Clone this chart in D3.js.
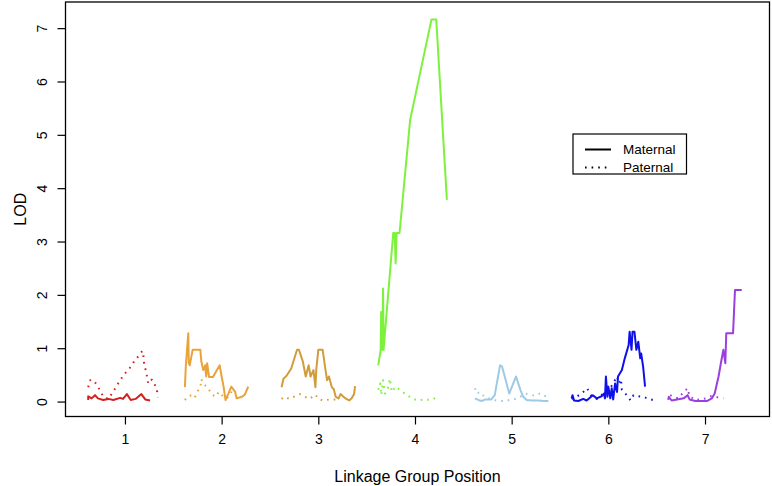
<!DOCTYPE html>
<html><head><meta charset="utf-8">
<script src="https://cdn.jsdelivr.net/npm/d3@7"></script>
<style>body{margin:0;background:#fff} svg text{font-family:"Liberation Sans",Arial,Helvetica,sans-serif;fill:#000}</style>
</head><body><svg id="c" width="772" height="486"></svg>
<script>
// ---- data ----
const groups = ["1","2","3","4","5","6","7"];
const xTicks = [1,2,3,4,5,6,7];
const yTicks = [0,1,2,3,4,5,6,7];
const xTitle = "Linkage Group Position";
const yTitle = "LOD";
const legendLabels = ["Maternal","Paternal"];
const groupColors = ["#D42020","#E8A33A","#D09C3C","#7CF23C","#9ECAE6","#1010E8","#9A3FE0"];

// [position, LOD]
const maternal1 = [[0.62,0.03],[0.62,0.10],[0.655,0.06],[0.69,0.12],[0.72,0.06],[0.775,0.03],[0.83,0.05],[0.88,0.03],[0.95,0.07],[0.98,0.05],[1.02,0.14],[1.06,0.03],[1.11,0.05],[1.17,0.14],[1.21,0.04],[1.26,0.02]];
const paternal1 = [[0.62,0.27],[0.64,0.40],[0.675,0.40],[0.71,0.31],[0.745,0.20],[0.775,0.09],[0.83,0.05],[0.865,0.15],[0.90,0.25],[0.94,0.37],[0.98,0.48],[1.02,0.57],[1.06,0.65],[1.10,0.77],[1.14,0.85],[1.18,0.95],[1.19,0.87],[1.20,0.68],[1.22,0.56],[1.24,0.34],[1.26,0.40],[1.28,0.41],[1.29,0.37],[1.31,0.31],[1.33,0.22],[1.34,0.08]];
const maternal2 = [[1.62,0.27],[1.63,0.68],[1.655,1.28],[1.66,0.72],[1.67,0.68],[1.70,0.97],[1.78,0.97],[1.79,0.75],[1.81,0.59],[1.83,0.68],[1.84,0.47],[1.85,0.72],[1.87,0.46],[1.91,0.46],[1.98,0.68],[2.00,0.47],[2.02,0.28],[2.04,0.03],[2.07,0.15],[2.10,0.28],[2.14,0.18],[2.155,0.06],[2.21,0.09],[2.24,0.13],[2.275,0.28]];
const paternal2 = [[1.62,0.03],[1.655,0.10],[1.69,0.12],[1.72,0.07],[1.76,0.22],[1.78,0.27],[1.79,0.42],[1.81,0.34],[1.86,0.25],[1.90,0.13],[1.94,0.09],[1.97,0.18],[2.02,0.09],[2.05,0.06],[2.09,0.12],[2.11,0.23]];
const maternal3 = [[2.62,0.27],[2.64,0.43],[2.67,0.48],[2.72,0.62],[2.78,0.97],[2.80,0.97],[2.84,0.75],[2.87,0.47],[2.90,0.68],[2.92,0.47],[2.95,0.59],[2.97,0.27],[2.98,0.62],[3.00,0.97],[3.045,0.97],[3.07,0.65],[3.09,0.40],[3.11,0.47],[3.14,0.27],[3.16,0.23],[3.18,0.09],[3.21,0.06],[3.23,0.14],[3.26,0.09],[3.29,0.05],[3.32,0.02],[3.345,0.06],[3.37,0.14],[3.38,0.29]];
const paternal3 = [[2.62,0.05],[2.65,0.09],[2.70,0.05],[2.76,0.10],[2.81,0.14],[2.86,0.09],[2.91,0.05],[2.97,0.13],[3.00,0.05],[3.05,0.02],[3.12,0.04],[3.17,0.04],[3.21,0.10],[3.22,0.03]];
const maternal4 = [[3.62,0.68],[3.645,0.97],[3.65,1.68],[3.66,0.97],[3.67,2.12],[3.675,0.97],[3.775,3.16],[3.79,3.16],[3.80,2.59],[3.81,3.16],[3.84,3.16],[3.95,5.28],[4.17,7.16],[4.22,7.16],[4.33,3.78]];
const paternal4 = [[3.62,0.22],[3.64,0.34],[3.65,0.12],[3.67,0.40],[3.69,0.15],[3.72,0.25],[3.74,0.43],[3.76,0.18],[3.80,0.28],[3.87,0.18],[3.92,0.12],[3.97,0.06],[4.03,0.02],[4.10,0.04],[4.17,0.03],[4.24,0.10]];
const maternal5 = [[4.62,0.06],[4.655,0.03],[4.69,0.01],[4.73,0.04],[4.79,0.04],[4.825,0.12],[4.88,0.68],[4.90,0.66],[4.975,0.15],[5.045,0.47],[5.09,0.22],[5.12,0.09],[5.155,0.03],[5.21,0.02],[5.275,0.02],[5.33,0.01],[5.38,0.01]];
const paternal5 = [[4.62,0.25],[4.64,0.15],[4.67,0.18],[4.72,0.09],[4.78,0.05],[4.86,0.01],[4.93,0.01],[4.98,0.03],[5.04,0.05],[5.09,0.09],[5.14,0.15],[5.19,0.13],[5.24,0.11],[5.29,0.15],[5.34,0.12],[5.37,0.03]];
const maternal6 = [[5.62,0.06],[5.63,0.12],[5.645,0.02],[5.69,0.01],[5.74,0.05],[5.775,0.02],[5.84,0.12],[5.88,0.06],[5.93,0.10],[5.955,0.15],[5.965,0.06],[5.975,0.47],[5.99,0.09],[6.00,0.28],[6.02,0.06],[6.035,0.25],[6.05,0.04],[6.07,0.34],[6.09,0.18],[6.10,0.47],[6.14,0.59],[6.17,0.81],[6.21,1.06],[6.22,1.31],[6.24,0.97],[6.25,1.31],[6.27,1.31],[6.29,0.97],[6.31,1.12],[6.33,0.81],[6.34,0.90],[6.36,0.65],[6.38,0.28]];
const paternal6 = [[5.62,0.05],[5.68,0.10],[5.74,0.18],[5.78,0.25],[5.82,0.12],[5.88,0.05],[5.95,0.15],[6.02,0.25],[6.09,0.47],[6.11,0.34],[6.13,0.42],[6.14,0.22],[6.16,0.18],[6.20,0.10],[6.23,0.02],[6.26,0.12],[6.31,0.10],[6.36,0.09],[6.39,0.07],[6.44,0.04],[6.49,0.01]];
const maternal7 = [[6.62,0.03],[6.625,0.09],[6.655,0.02],[6.71,0.04],[6.78,0.06],[6.82,0.12],[6.84,0.04],[6.90,0.01],[7.02,0.01],[7.07,0.06],[7.10,0.15],[7.14,0.47],[7.17,0.78],[7.19,0.97],[7.21,0.72],[7.22,1.28],[7.29,1.28],[7.31,2.09],[7.38,2.09]];
const paternal7 = [[6.64,0.12],[6.67,0.09],[6.72,0.06],[6.78,0.18],[6.82,0.25],[6.84,0.10],[6.90,0.03],[7.01,0.06],[7.06,0.10],[7.10,0.09],[7.19,0.06]];

const maternal = [maternal1,maternal2,maternal3,maternal4,maternal5,maternal6,maternal7];
const paternal = [paternal1,paternal2,paternal3,paternal4,paternal5,paternal6,paternal7];

// ---- drawing ----
const svg = d3.select("#c");
const L = 65.5, R = 769.5, T = 2, B = 416.5;
const x = d3.scaleLinear().domain([0.385, 7.667]).range([L, R]);
const y = d3.scaleLinear().domain([-0.28, 7.49]).range([B, T]);
const line = d3.line().x(d => x(d[0])).y(d => y(d[1]));

const plot = svg.append("g");
groups.forEach((g, i) => {
  plot.append("path").datum(paternal[i]).attr("d", line)
    .attr("fill","none").attr("stroke",groupColors[i]).attr("stroke-width",2)
    .attr("stroke-dasharray","1.6,5").attr("stroke-linejoin","round");
  plot.append("path").datum(maternal[i]).attr("d", line)
    .attr("fill","none").attr("stroke",groupColors[i]).attr("stroke-width",2)
    .attr("stroke-linejoin","round");
});

// box
svg.append("rect").attr("x",L).attr("y",T).attr("width",R-L).attr("height",B-T)
  .attr("fill","none").attr("stroke","#000").attr("stroke-width",1.3);

// x axis
const xa = svg.append("g").attr("transform",`translate(0,${B})`)
  .call(d3.axisBottom(x).tickValues(xTicks).tickSize(8).tickPadding(10).tickFormat(d3.format("d")));
xa.select(".domain").remove();
xa.selectAll("text").attr("font-size",14).style("font-family","Liberation Sans, Arial, sans-serif");
xa.selectAll("line").attr("stroke","#000").attr("stroke-width",1.2);

// y axis
const ya = svg.append("g").attr("transform",`translate(${L},0)`)
  .call(d3.axisLeft(y).tickValues(yTicks).tickSize(8).tickFormat(d3.format("d")));
ya.select(".domain").remove();
ya.selectAll("line").attr("stroke","#000").attr("stroke-width",1.2);
ya.selectAll("text").attr("font-size",14).style("font-family","Liberation Sans, Arial, sans-serif")
  .attr("x",null).attr("dy",null)
  .attr("text-anchor","middle")
  .attr("transform","translate(-24,0) rotate(-90)")
  .attr("dominant-baseline","central");

// titles
svg.append("text").attr("x",(L+R)/2).attr("y",476).attr("text-anchor","middle")
  .attr("dominant-baseline","central").attr("font-size",16).text(xTitle);
svg.append("text").attr("transform",`translate(20,${(T+B)/2}) rotate(-90)`).attr("text-anchor","middle")
  .attr("dominant-baseline","central").attr("font-size",16).text(yTitle);

// legend
const lg = svg.append("g").attr("transform","translate(573,134)");
lg.append("rect").attr("width",113.5).attr("height",40).attr("fill","#fff").attr("stroke","#000").attr("stroke-width",1.2);
legendLabels.forEach((t, i) => {
  const yy = 15.5 + i*18;
  lg.append("line").attr("x1",12).attr("x2",38).attr("y1",yy).attr("y2",yy)
    .attr("stroke","#000").attr("stroke-width",2).attr("stroke-dasharray", i ? "1.6,5" : null);
  lg.append("text").attr("x",50).attr("y",yy).attr("dominant-baseline","central")
    .attr("font-size",13.5).text(t);
});
</script></body></html>
